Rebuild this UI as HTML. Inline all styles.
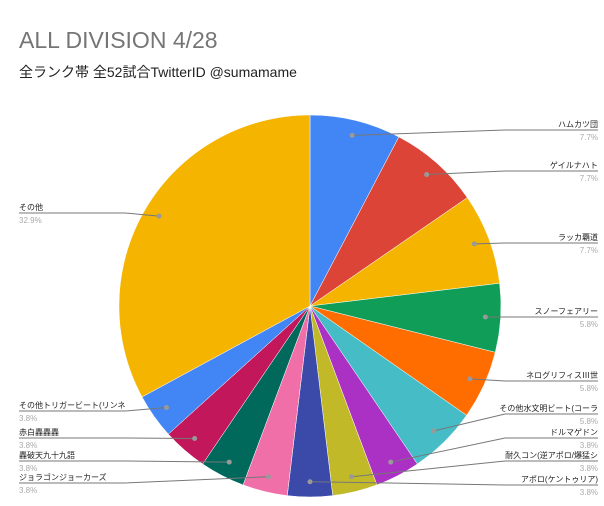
<!DOCTYPE html>
<html><head><meta charset="utf-8">
<style>
body{margin:0;background:#fff;}
svg text{font-family:"Liberation Sans","Noto Sans CJK JP",sans-serif;}
</style></head>
<body>
<svg id="chart" width="604" height="501" xmlns="http://www.w3.org/2000/svg">
<rect width="604" height="501" fill="#fff"/>
<text x="19" y="48" font-size="23" fill="#757575">ALL DIVISION 4/28</text>
<text x="19" y="77" font-size="14" fill="#222">全ランク帯 全52試合TwitterID @sumamame</text>
<g id="slices"></g>
<g id="labels"></g>
</svg>
<script>
const categories=["ハムカツ団","ゲイルナハト","ラッカ覇道","スノーフェアリー","ネログリフィスⅢ世","その他水文明ビート(コーラ","ドルマゲドン","耐久コン(逆アポロ/爆猛シ","アポロ(ケントゥリア)","ジョラゴンジョーカーズ","轟破天九十九語","赤白轟轟轟","その他トリガービート(リンネ","その他"];
const values=[7.7,7.7,7.7,5.8,5.8,5.8,3.8,3.8,3.8,3.8,3.8,3.8,3.8,32.9];
const colors=["#4285f4","#db4437","#f4b400","#0f9d58","#ff6d01","#46bdc6","#ab30c4","#c2b928","#3b49a8","#f06fa8","#00695c","#c2185b","#4285f4","#f4b400"];
const labelLineY=[130,171,243,317,381,414,438,461,485,483,461,438,411,213];
const labelSide=["R","R","R","R","R","R","R","R","R","L","L","L","L","L"];

const NS="http://www.w3.org/2000/svg";
const cx=310,cy=306,r=191;
const total=values.reduce((a,b)=>a+b,0);
const gS=document.getElementById('slices'),gL=document.getElementById('labels');
function pt(a,rr){return [cx+rr*Math.sin(a),cy-rr*Math.cos(a)];}
let acc=0;
values.forEach((v,i)=>{
  const a0=acc/total*2*Math.PI; acc+=v; const a1=acc/total*2*Math.PI;
  const p0=pt(a0,r),p1=pt(a1,r);
  const large=(a1-a0)>Math.PI?1:0;
  const p=document.createElementNS(NS,'path');
  p.setAttribute('d',`M${cx},${cy}L${p0[0]},${p0[1]}A${r},${r} 0 ${large} 1 ${p1[0]},${p1[1]}Z`);
  p.setAttribute('fill',colors[i]);p.setAttribute('stroke','#fff');p.setAttribute('stroke-width','0.5');
  
  
  gS.appendChild(p);
  const am=(a0+a1)/2; const d=pt(am,r*0.92);
  const right=labelSide[i]==="R";
  const L=labelLineY[i];
  let line;
  if(right){
    const ex=Math.max(d[0],505);
    line=`${d[0]},${d[1]} ${ex},${L} 598,${L}`;
  }else{
    const ex=Math.min(d[0],125);
    line=`${d[0]},${d[1]} ${ex},${L} 19,${L}`;
  }
  const pl=document.createElementNS(NS,'polyline');
  pl.setAttribute('points',line);pl.setAttribute('fill','none');pl.setAttribute('stroke','#777');pl.setAttribute('stroke-width','1');
  
  
  gL.appendChild(pl);
  const c=document.createElementNS(NS,'circle');
  c.setAttribute('cx',d[0]);c.setAttribute('cy',d[1]);c.setAttribute('r','2.5');c.setAttribute('fill','#999');
  
  
  gL.appendChild(c);
  const t=document.createElementNS(NS,'text');
  t.setAttribute('x',right?598:19);t.setAttribute('y',L-3);t.setAttribute('font-size','8');
  t.setAttribute('text-anchor',right?'end':'start');t.setAttribute('fill','#222');
  t.textContent=categories[i];
  
  
  gL.appendChild(t);
  const t2=document.createElementNS(NS,'text');
  t2.setAttribute('x',right?598:19);t2.setAttribute('y',L+10);t2.setAttribute('font-size','8');
  t2.setAttribute('text-anchor',right?'end':'start');t2.setAttribute('fill','#aaa');
  t2.textContent=(v/total*100).toFixed(1)+'%';
  
  
  gL.appendChild(t2);
});
</script>
</body></html>
